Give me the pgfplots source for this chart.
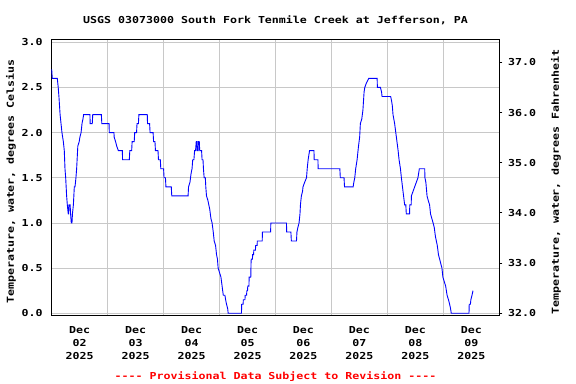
\documentclass[border=0pt]{standalone}
\usepackage{pgfplots}
\pgfplotsset{compat=1.18}
\usepackage{pgfplotstable}
\usepackage{fontspec}
\newfontfamily\usgs[FakeStretch=1.21]{DejaVu Sans Mono Bold}
\newcommand\uf{\usgs\fontsize{9.6bp}{12.7bp}\selectfont}
\definecolor{gridgray}{RGB}{200,200,200}
\definecolor{usgsblue}{RGB}{0,0,255}
\definecolor{provred}{RGB}{255,0,0}
\pgfplotstableread{
h v
0 2.7
0.25 2.6
2.4 2.6
2.6 2.55
2.8 2.5
3.1 2.4
3.6 2.2
4.0 2.1
4.4 2.0
5.0 1.9
5.4 1.8
5.7 1.6
6.0 1.5
6.4 1.3
6.7 1.2
6.9 1.15
7.1 1.1
7.3 1.1
7.4 1.2
7.9 1.2
8.1 1.1
8.4 1.0
8.7 1.0
8.9 1.1
9.3 1.2
9.7 1.4
10.0 1.4
10.4 1.5
10.7 1.6
11.2 1.85
11.8 1.9
12.1 1.95
12.6 2.0
13.0 2.1
13.4 2.15
13.7 2.2
16.4 2.2
16.5 2.1
17.4 2.1
17.6 2.2
21.3 2.2
21.5 2.1
24.6 2.1
24.7 2.0
26.7 2.0
26.8 1.95
27.4 1.9
27.9 1.85
28.6 1.8
30.3 1.8
30.4 1.7
33.3 1.7
33.5 1.8
34.3 1.8
34.5 1.9
35.4 1.9
35.6 2.0
36.4 2.0
36.6 2.1
37.2 2.1
37.4 2.2
41.0 2.2
41.1 2.1
42.0 2.1
42.2 2.0
43.5 2.0
43.7 1.9
44.3 1.9
44.5 1.8
45.6 1.8
45.8 1.7
46.6 1.7
46.8 1.6
48.0 1.6
48.2 1.5
48.8 1.5
49.0 1.4
51.3 1.4
51.5 1.3
58.5 1.3
58.7 1.4
59.3 1.45
59.8 1.55
60.2 1.6
60.5 1.7
61.0 1.7
61.3 1.8
61.7 1.8
62.0 1.9
62.3 1.9
62.4 1.8
62.8 1.8
62.9 1.9
63.3 1.9
63.5 1.8
64.3 1.8
64.5 1.7
64.9 1.7
65.1 1.6
65.4 1.5
65.9 1.5
66.1 1.4
66.4 1.3
67.0 1.25
67.4 1.2
67.8 1.15
68.3 1.05
68.8 1.0
69.3 0.9
69.7 0.8
70.3 0.75
70.7 0.65
71.1 0.6
71.4 0.5
72.0 0.45
72.6 0.4
73.1 0.3
73.6 0.2
74.3 0.2
74.6 0.15
75.0 0.1
75.5 0.05
75.7 0.0
81.4 0.0
81.5 0.1
82.1 0.1
82.2 0.15
82.9 0.15
83.0 0.2
83.6 0.2
83.7 0.25
84.0 0.25
84.1 0.3
84.6 0.3
84.7 0.4
85.4 0.4
85.5 0.55
85.6 0.6
86.1 0.6
86.2 0.65
86.6 0.65
86.7 0.7
87.4 0.7
87.5 0.75
88.1 0.75
88.2 0.8
90.3 0.8
90.4 0.9
93.9 0.9
94.0 1.0
100.7 1.0
100.8 0.9
102.6 0.9
102.8 0.8
105.0 0.8
105.2 0.9
105.6 0.95
106.1 1.0
106.5 1.1
106.7 1.2
107.1 1.3
107.6 1.35
107.8 1.4
108.5 1.45
109.3 1.5
109.6 1.6
110.0 1.7
110.6 1.8
112.5 1.8
112.6 1.7
114.2 1.7
114.3 1.6
123.6 1.6
123.8 1.5
125.4 1.5
125.6 1.4
129.3 1.4
129.6 1.45
130.0 1.5
130.4 1.6
131.0 1.7
131.6 1.85
132.1 1.95
132.4 2.1
133.0 2.15
133.5 2.25
134.0 2.45
134.3 2.5
135.0 2.55
136.0 2.6
139.6 2.6
139.7 2.5
141.0 2.5
141.5 2.45
141.7 2.4
145.4 2.4
145.8 2.35
146.1 2.3
146.4 2.2
147.1 2.1
147.6 2.0
148.1 1.9
148.6 1.8
149.0 1.7
149.6 1.6
150.0 1.5
150.7 1.35
151.4 1.2
151.9 1.2
152.1 1.1
153.5 1.1
153.6 1.2
154.2 1.2
154.3 1.3
155.0 1.35
155.7 1.4
156.4 1.45
157.1 1.5
157.7 1.6
160.0 1.6
160.1 1.5
160.5 1.45
161.0 1.3
161.5 1.25
162.1 1.2
162.5 1.1
163.6 1.0
164.1 0.95
164.6 0.85
165.0 0.8
165.4 0.75
165.9 0.65
166.4 0.6
166.9 0.55
167.4 0.5
167.8 0.4
168.4 0.35
169.0 0.3
169.6 0.2
170.2 0.15
170.7 0.1
171.1 0.05
171.4 0.0
179.0 0.0
179.1 0.1
179.6 0.1
179.8 0.15
180.3 0.2
180.7 0.25
}\tempdata
\begin{document}
\begin{tikzpicture}
\path[use as bounding box] (-51.7bp,-68.3bp) rectangle (524.3bp,315.7bp);
\begin{axis}[
  at={(0,0)}, anchor=south west, scale only axis,
  width=447.6bp, height=276.4bp,
  xmin=0, xmax=192, ymin=-0.0266, ymax=3.033,
  axis line style={line width=0.9bp, black},
  xtick={12,36,60,84,108,132,156,180},
  xticklabels={{Dec\\02\\2025},{Dec\\03\\2025},{Dec\\04\\2025},{Dec\\05\\2025},{Dec\\06\\2025},{Dec\\07\\2025},{Dec\\08\\2025},{Dec\\09\\2025}},
  xticklabel style={font=\uf, align=center, anchor=north, inner sep=0pt, yshift=-11bp},
  minor xtick={24,48,72,96,120,144,168},
  xminorgrids=true,
  ytick={0,0.5,1,1.5,2,2.5,3},
  yticklabels={0.0,0.5,1.0,1.5,2.0,2.5,3.0},
  yticklabel style={font=\uf, anchor=east, inner sep=0pt, xshift=-9bp},
  ymajorgrids=true,
  major grid style={gridgray, line width=0.8bp},
  minor grid style={gridgray, line width=0.8bp},
  major tick length=0pt, minor tick length=0pt,
  clip=false,
]
\addplot[usgsblue, line width=0.9bp, sharp plot] table[x=h, y=v] {\tempdata};
\node[font=\uf, anchor=base, yshift=15.3bp] at (rel axis cs:0.5,1) {USGS 03073000 South Fork Tenmile Creek at Jefferson, PA};
\node[font=\uf, text=provred, anchor=base, yshift=-63.3bp] at (rel axis cs:0.5,0) {---{}- Provisional Data Subject to Revision ---{}-};
\node[font=\uf, anchor=center, xshift=-40.7bp, rotate=90] at (rel axis cs:0,0.4855) {Temperature, water, degrees Celsius};
\node[font=\uf, anchor=center, xshift=56.7bp, rotate=90] at (rel axis cs:1,0.4837) {Temperature, water, degrees Fahrenheit};
\end{axis}
\begin{axis}[
  at={(0,0)}, anchor=south west, scale only axis,
  width=447.6bp, height=276.4bp,
  xmin=0, xmax=192, ymin=31.952, ymax=37.459,
  axis x line=none, axis y line*=right,
  axis line style={-, line width=0.9bp, black},
  ytick={32,33,34,35,36,37},
  yticklabels={32.0,33.0,34.0,35.0,36.0,37.0},
  yticklabel style={font=\uf, anchor=west, inner sep=0pt, xshift=5.7bp},
  tick align=outside, major tick length=3bp,
  tick style={black, line width=0.9bp},
]
\addplot[draw=none] coordinates {(0,32)};
\end{axis}
\end{tikzpicture}
\end{document}
